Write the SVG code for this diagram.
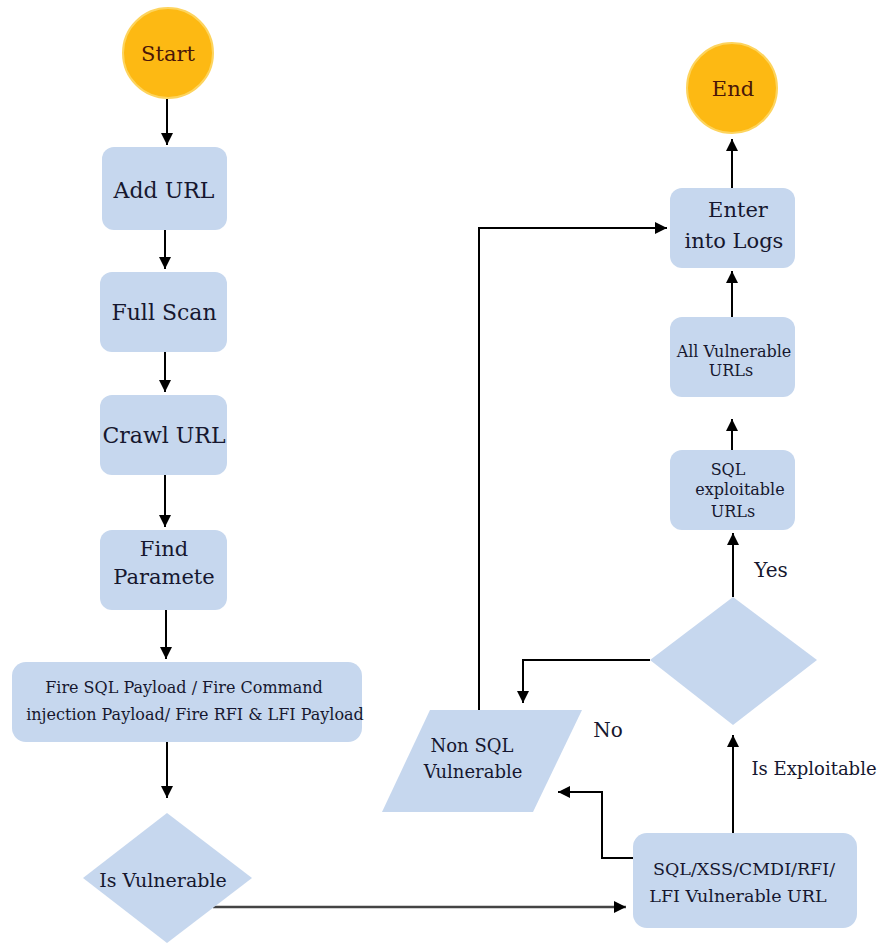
<svg xmlns="http://www.w3.org/2000/svg" width="882" height="943" viewBox="0 0 882 943">
<style>
.box{fill:#c6d7ee;stroke:none}
.term{fill:#fdb913;stroke:#fdd45e;stroke-width:2}
.t{font-family:"DejaVu Serif","Liberation Serif",serif;fill:#16172f;text-anchor:middle}
.tt{font-family:"DejaVu Serif","Liberation Serif",serif;fill:#4a1608;text-anchor:middle}
.c{fill:none;stroke:#000;stroke-width:2;marker-end:url(#ah)}
</style>
<defs>
<marker id="ah" markerUnits="userSpaceOnUse" markerWidth="12" markerHeight="12" refX="10" refY="5" orient="auto" viewBox="0 0 10 10">
<path d="M0,0 L10,5 L0,10 z" fill="#000"/>
</marker>
</defs>
<rect width="882" height="943" fill="#fff"/>
<g id="connectors">
<line class="c" x1="167" y1="99" x2="167" y2="145"/>
<line class="c" x1="165" y1="230" x2="165" y2="269"/>
<line class="c" x1="165" y1="352" x2="165" y2="392"/>
<line class="c" x1="165" y1="475" x2="165" y2="527"/>
<line class="c" x1="166" y1="610" x2="166" y2="659"/>
<line class="c" x1="167" y1="742" x2="167" y2="798"/>
<line class="c" x1="213" y1="907" x2="626" y2="907" style="stroke:#444;stroke-width:2.5"/>
<line class="c" x1="733" y1="833" x2="733" y2="735"/>
<line class="c" x1="733" y1="597" x2="733" y2="533"/>
<line class="c" x1="732" y1="450" x2="732" y2="419"/>
<line class="c" x1="732" y1="317" x2="732" y2="271"/>
<line class="c" x1="732" y1="188" x2="732" y2="139"/>
<polyline class="c" points="479,710 479,228 667,228"/>
<polyline class="c" points="650,660 523,660 523,703"/>
<polyline class="c" points="633,858 602,858 602,792 558,792"/>
</g>
<g id="start">
<circle class="term" cx="168" cy="53" r="45"/>
<text class="tt" x="168" y="61" font-size="21">Start</text>
</g>
<g id="add-url">
<rect class="box" x="102" y="147" width="125" height="83" rx="12"/>
<text class="t" x="164" y="198" font-size="22">Add URL</text>
</g>
<g id="full-scan">
<rect class="box" x="100" y="272" width="127" height="80" rx="12"/>
<text class="t" x="164" y="320" font-size="22">Full Scan</text>
</g>
<g id="crawl-url">
<rect class="box" x="100" y="395" width="127" height="80" rx="12"/>
<text class="t" x="164" y="443" font-size="22">Crawl URL</text>
</g>
<g id="find-param">
<rect class="box" x="100" y="530" width="127" height="80" rx="12"/>
<text class="t" x="164" y="556" font-size="21">Find</text>
<text class="t" x="164" y="584" font-size="21">Paramete</text>
</g>
<g id="fire-payload">
<rect class="box" x="12" y="662" width="350" height="80" rx="14"/>
<text class="t" x="184" y="693" font-size="16">Fire SQL Payload / Fire Command</text>
<text class="t" x="195" y="720" font-size="16">injection Payload/ Fire RFI &amp; LFI Payload</text>
</g>
<g id="is-vulnerable">
<polygon class="box" points="167,813 252,878 167,943 83,878"/>
<text class="t" x="163" y="887" font-size="19">Is Vulnerable</text>
</g>
<g id="vuln-url">
<rect class="box" x="633" y="833" width="224" height="95" rx="14"/>
<text class="t" x="744" y="875" font-size="17.5">SQL/XSS/CMDI/RFI/</text>
<text class="t" x="738" y="902" font-size="17.5">LFI Vulnerable URL</text>
</g>
<g id="exploitable">
<polygon class="box" points="733,597 817,660 733,725 650,660"/>
</g>
<g id="non-sql">
<polygon class="box" points="430,710 582,710 533,812 382,812"/>
<text class="t" x="472" y="752" font-size="18">Non SQL</text>
<text class="t" x="473" y="778" font-size="18">Vulnerable</text>
</g>
<g id="sql-exploitable">
<rect class="box" x="670" y="450" width="125" height="80" rx="12"/>
<text class="t" x="728" y="475" font-size="16">SQL</text>
<text class="t" x="740" y="495" font-size="16">exploitable</text>
<text class="t" x="733" y="517" font-size="16">URLs</text>
</g>
<g id="all-vulnerable">
<rect class="box" x="670" y="317" width="125" height="80" rx="12"/>
<text class="t" x="734" y="357" font-size="16">All Vulnerable</text>
<text class="t" x="731" y="376" font-size="16">URLs</text>
</g>
<g id="enter-logs">
<rect class="box" x="670" y="188" width="125" height="80" rx="12"/>
<text class="t" x="738" y="217" font-size="21">Enter</text>
<text class="t" x="734" y="248" font-size="21">into Logs</text>
</g>
<g id="end">
<circle class="term" cx="732" cy="88" r="45"/>
<text class="tt" x="733" y="96" font-size="21">End</text>
</g>
<g id="labels">
<text class="t" x="771" y="577" font-size="20">Yes</text>
<text class="t" x="608" y="737" font-size="20">No</text>
<text class="t" x="814" y="775" font-size="18">Is Exploitable</text>
</g>
</svg>
